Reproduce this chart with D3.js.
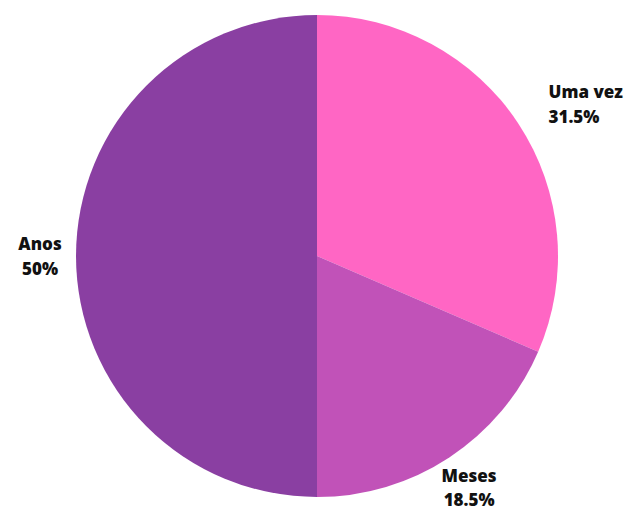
<!DOCTYPE html>
<html>
<head>
<meta charset="utf-8">
<script src="https://cdn.jsdelivr.net/npm/d3@7"></script>
<style>
  html, body { margin: 0; padding: 0; background: #ffffff; }
  svg { display: block; }
  .lbl { font-family: "Open Sans", sans-serif; font-weight: 800; font-size: 17px; fill: #111111; }
</style>
</head>
<body>
<svg id="chart" width="638" height="512"></svg>
<script>
const categories = ["Uma vez", "Meses", "Anos"];
const values = [31.5, 18.5, 50];
const percentLabels = ["31.5%", "18.5%", "50%"];
const colors = ["#FF66C4", "#C152B8", "#8A3FA2"];

const width = 638, height = 512;
const cx = 317, cy = 256, radius = 241;
const labelRadius = 277;
const anchors = ["start", "middle", "middle"];

const svg = d3.select("#chart");
const g = svg.append("g").attr("transform", `translate(${cx},${cy})`);

const pie = d3.pie().sort(null).value(d => d);
const arcs = pie(values);
const arc = d3.arc().innerRadius(0).outerRadius(radius);
const labelArc = d3.arc().innerRadius(labelRadius).outerRadius(labelRadius);

g.selectAll("path.slice")
  .data(arcs)
  .join("path")
  .attr("class", "slice")
  .attr("d", arc)
  .attr("fill", (d, i) => colors[i]);

const labels = g.selectAll("text.lbl")
  .data(arcs)
  .join("text")
  .attr("class", "lbl")
  .attr("text-anchor", (d, i) => anchors[i])
  .attr("transform", d => {
    const [x, y] = labelArc.centroid(d);
    return `translate(${x},${y})`;
  });

labels.append("tspan")
  .attr("x", 0)
  .attr("dy", "-0.35em")
  .text((d, i) => categories[i]);
labels.append("tspan")
  .attr("x", 0)
  .attr("dy", "1.45em")
  .text((d, i) => percentLabels[i]);
</script>
</body>
</html>
